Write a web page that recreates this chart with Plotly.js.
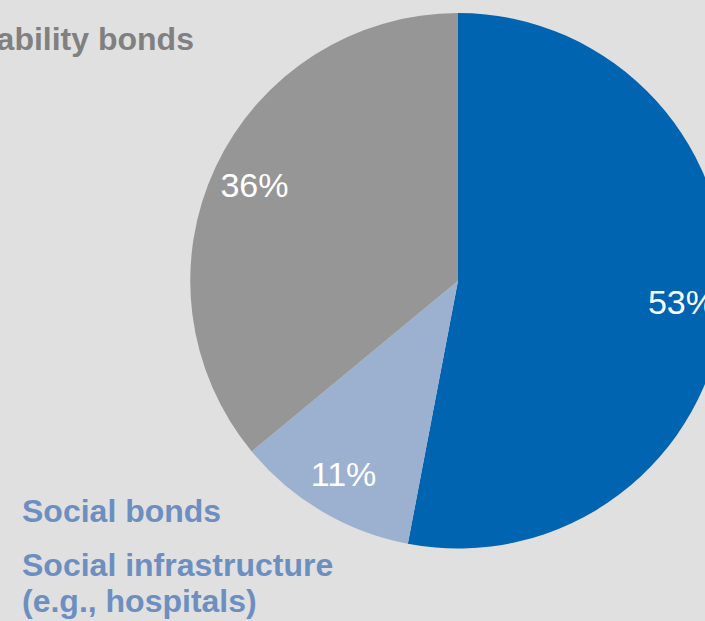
<!DOCTYPE html>
<html>
<head>
<meta charset="utf-8">
<script src="https://cdn.plot.ly/plotly-3.0.1.min.js"></script>
<style>
html,body{margin:0;padding:0;background:#e0e0e0;}
#wrap{width:705px;height:621px;overflow:hidden;position:relative;}
#chart{width:916px;height:621px;}
</style>
</head>
<body>
<div id="wrap"><div id="chart"></div></div>
<script>
const categories = ["Other", "Social bonds", "Sustainability bonds"];
const shares = [53, 11, 36];
const sliceColors = ["#0064b0", "#9cb0cf", "#969696"];
const labelTexts = ["Sustainability bonds", "Social bonds", "Social infrastructure", "(e.g., hospitals)"];

const W = 916, H = 621;
const px = x => x / W;
const py = y => 1 - y / H;
const pieDomain = {x: [0, 1], y: [py(548.5), py(13)]};

const basePie = {
  type: "pie",
  labels: categories,
  values: shares,
  sort: false,
  direction: "clockwise",
  rotation: 0,
  marker: {colors: sliceColors, line: {width: 0}},
  textinfo: "none",
  hoverinfo: "none",
  showlegend: false,
  domain: pieDomain
};

// transparent ring overlay, used only to place the percentage labels near the rim
const labelRing = {
  type: "pie",
  labels: categories,
  values: shares,
  sort: false,
  direction: "clockwise",
  rotation: 0,
  hole: 0.68,
  marker: {colors: ["rgba(0,0,0,0)", "rgba(0,0,0,0)", "rgba(0,0,0,0)"], line: {width: 0}},
  textinfo: "percent",
  texttemplate: "%{percent:.0%}",
  textposition: "inside",
  insidetextorientation: "horizontal",
  textfont: {family: "Liberation Sans, Arial, sans-serif", size: 34, color: "#ffffff"},
  hoverinfo: "none",
  showlegend: false,
  domain: pieDomain
};

const labelFont = {family: "Liberation Sans, Arial, sans-serif", size: 32};
const grayFont = Object.assign({color: "#808080"}, labelFont);
const blueFont = Object.assign({color: "#6d8fc0"}, labelFont);

const layout = {
  width: W, height: H,
  margin: {l: 0, r: 0, t: 0, b: 0},
  paper_bgcolor: "#e0e0e0",
  plot_bgcolor: "#e0e0e0",
  showlegend: false,
  annotations: [
    {text: "<b>" + labelTexts[0] + "</b>", xref: "paper", yref: "paper", x: px(196), y: py(39),
     xanchor: "right", yanchor: "middle", showarrow: false, font: grayFont},
    {text: "<b>" + labelTexts[1] + "</b>", xref: "paper", yref: "paper", x: px(20), y: py(511),
     xanchor: "left", yanchor: "middle", showarrow: false, font: blueFont},
    {text: "<b>" + labelTexts[2] + "</b>", xref: "paper", yref: "paper", x: px(20), y: py(565),
     xanchor: "left", yanchor: "middle", showarrow: false, font: blueFont},
    {text: "<b>" + labelTexts[3] + "</b>", xref: "paper", yref: "paper", x: px(20), y: py(601),
     xanchor: "left", yanchor: "middle", showarrow: false, font: blueFont}
  ]
};

Plotly.newPlot("chart", [basePie, labelRing], layout, {displayModeBar: false, staticPlot: true});
</script>
</body>
</html>
